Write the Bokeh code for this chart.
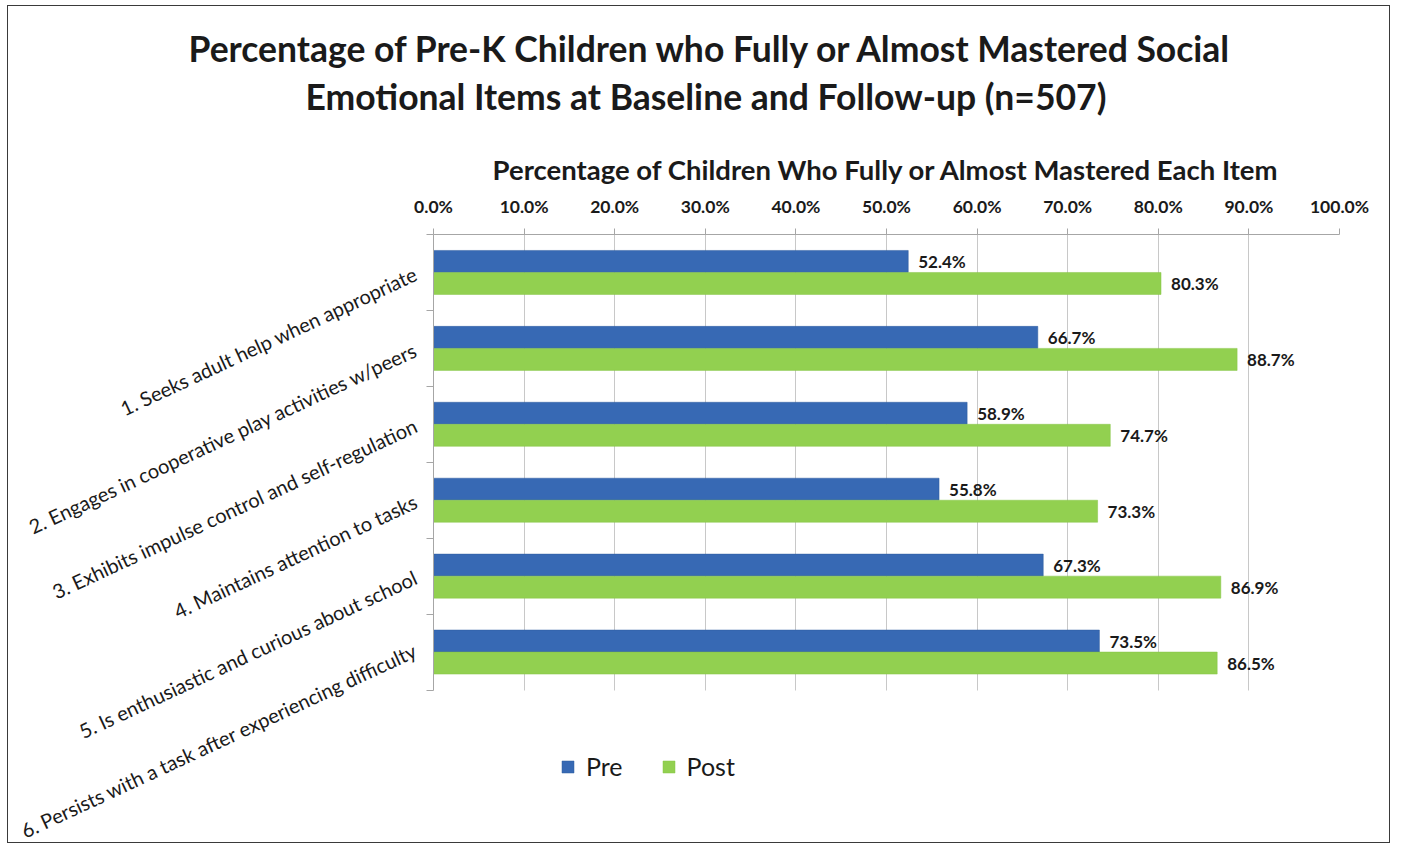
from bokeh.plotting import figure
from bokeh.models import (ColumnDataSource, Range1d, Title, Legend, LegendItem,
                          NumeralTickFormatter, FixedTicker, LabelSet)
from bokeh.core.properties import value
from bokeh.transform import dodge
from bokeh.embed import file_html
from bokeh.resources import INLINE

categories = [
    "1. Seeks adult help when appropriate",
    "2. Engages in cooperative play activities w/peers",
    "3. Exhibits impulse control and self-regulation",
    "4. Maintains attention to tasks",
    "5. Is enthusiastic and curious about school",
    "6. Persists with a task after experiencing difficulty",
]
pre = [52.4, 66.7, 58.9, 55.8, 67.3, 73.5]
post = [80.3, 88.7, 74.7, 73.3, 86.9, 86.5]
x_ticks = [0, 10, 20, 30, 40, 50, 60, 70, 80, 90, 100]

FONT = "Lato"
TXT = "#1a1a1a"
GRID = "#C8C8C8"

n = len(categories)
ypos = [n - 1 - i for i in range(n)]          # item 1 on top
band_edges = [i - 0.5 for i in range(n + 1)]

src = ColumnDataSource(dict(
    y=ypos,
    pre=[v / 100 for v in pre],
    post=[v / 100 for v in post],
    pre_lbl=[f"{v:.1f}%" for v in pre],
    post_lbl=[f"{v:.1f}%" for v in post],
))

p = figure(
    width=1383, height=838,
    y_range=Range1d(-0.5 - 2.035, n - 0.5),
    x_range=Range1d(0, 1.0),
    x_axis_location="above",
    output_backend="svg", toolbar_location=None,
    min_border_left=423, min_border_right=52, min_border_top=228, min_border_bottom=0,
)
p.styles = {"border": "1px solid #3a3a3a", "margin-left": "7px", "margin-top": "5px"}
p.outline_line_color = None

bh = 0.29
r_pre = p.hbar(y=dodge("y", 0.145), right="pre", left=0, height=bh,
               source=src, fill_color="#3769B4", line_color="#2E5C9E", line_width=0.5)
r_post = p.hbar(y=dodge("y", -0.145), right="post", left=0, height=bh,
                source=src, fill_color="#92D050", line_color="#86C447", line_width=0.5)

for col, lbl, off in (("pre", "pre_lbl", 0.145), ("post", "post_lbl", -0.145)):
    ls = LabelSet(x=col, y=dodge("y", off), text=lbl, source=src,
                  x_offset=10, text_baseline="middle", text_align="left",
                  text_font=value(FONT), text_font_style="bold", text_font_size="17px",
                  text_color=TXT)
    p.add_layout(ls)

# x axis (top)
xa = p.xaxis[0]
xa.ticker = FixedTicker(ticks=[t / 100 for t in x_ticks])
xa.formatter = NumeralTickFormatter(format="0.0%")
xa.axis_label = "Percentage of Children Who Fully or Almost Mastered Each Item"
xa.axis_label_text_font = FONT
xa.axis_label_text_font_style = "bold"
xa.axis_label_text_font_size = "27.5px"
xa.axis_label_text_color = TXT
xa.axis_label_standoff = 7
xa.major_label_text_font = FONT
xa.major_label_text_font_style = "bold"
xa.major_label_text_font_size = "17.5px"
xa.major_label_text_color = TXT
xa.major_label_standoff = 12
xa.axis_line_color = "#A6A6A6"
xa.major_tick_line_color = "#A6A6A6"
xa.major_tick_out = 6
xa.major_tick_in = 0
xa.minor_tick_line_color = None

# y axis (categories, rotated)
ya = p.yaxis[0]
ya.ticker = FixedTicker(ticks=ypos, minor_ticks=band_edges)
ya.major_label_overrides = {y: c for y, c in zip(ypos, categories)}
ya.bounds = (band_edges[0], band_edges[-1])
ya.major_label_orientation = 0.435
ya.major_label_text_font = FONT
ya.major_label_text_font_size = "20px"
ya.major_label_text_color = TXT
ya.major_label_standoff = 11
ya.axis_line_color = "#A6A6A6"
ya.major_tick_line_color = None
ya.minor_tick_line_color = "#A6A6A6"
ya.minor_tick_out = 7
ya.minor_tick_in = 0

p.ygrid.grid_line_color = None
xg = p.xgrid[0]
if "cross_bounds" in xg.properties():
    xg.grid_line_color = GRID
    xg.cross_bounds = (band_edges[0], band_edges[-1])
else:
    xg.grid_line_color = None
    p.segment(x0=[t / 100 for t in x_ticks], x1=[t / 100 for t in x_ticks],
              y0=[band_edges[0]] * len(x_ticks), y1=[band_edges[-1]] * len(x_ticks),
              line_color=GRID, line_width=1, level="underlay")

# titles
p.add_layout(Title(text="Emotional Items at Baseline and Follow-up (n=507)", align="left",
                   offset=-128, text_font=FONT, text_font_size="35.5px", text_font_style="bold",
                   text_color=TXT, standoff=63), "above")
p.add_layout(Title(text="Percentage of Pre-K Children who Fully or Almost Mastered Social", align="left",
                   offset=-245, text_font=FONT, text_font_size="35.5px", text_font_style="bold",
                   text_color=TXT, standoff=-56, vertical_align="bottom"), "above")

legend = Legend(items=[LegendItem(label="Pre", renderers=[r_pre]),
                       LegendItem(label="Post", renderers=[r_post])],
                orientation="horizontal", location=(127, 63),
                label_text_font=FONT, label_text_font_size="25px", label_text_color=TXT,
                glyph_width=15, glyph_height=15, spacing=38, label_standoff=11,
                border_line_color=None, background_fill_alpha=0, padding=0, margin=0)
p.add_layout(legend, "center")

open("out.html", "w").write(file_html(p, INLINE))
